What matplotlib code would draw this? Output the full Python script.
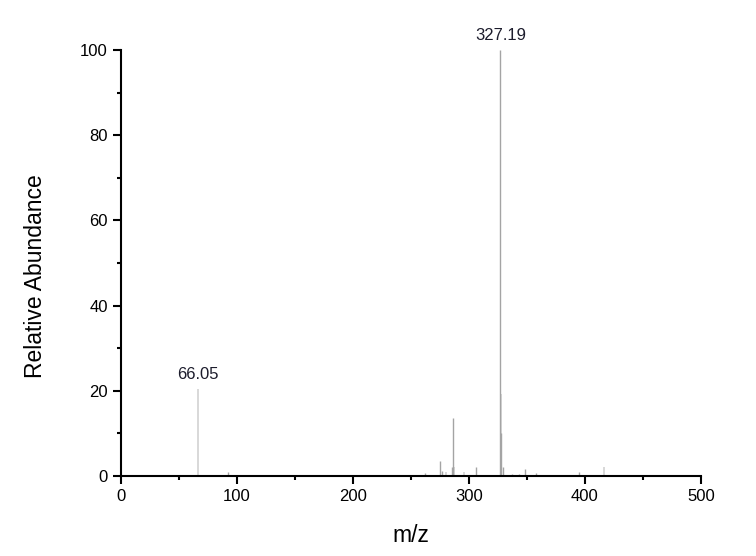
import numpy as np
import matplotlib.pyplot as plt
from matplotlib.ticker import MultipleLocator

plt.rcParams['font.family'] = ['Liberation Sans', 'DejaVu Sans']

# peaks drawn in the darker grey
mz_dark = [92.0, 262.4, 275.3, 276.4, 285.5, 286.2, 306.3, 327.19, 327.5,
           329.6, 337.0, 343.4, 348.6, 358.3, 374.4, 395.0]
int_dark = [1.0, 0.8, 3.4, 1.2, 2.0, 13.6, 2.0, 100.0, 10.0,
            2.0, 0.5, 0.4, 1.6, 0.6, 0.3, 0.9]
# peaks drawn in the light grey
mz_light = [66.05, 279.9, 286.8, 295.9, 328.1, 416.1]
int_light = [20.5, 1.0, 2.0, 1.0, 19.2, 2.0]
labels = [(66.05, 20.5, '66.05'), (327.19, 100.0, '327.19')]

fig = plt.figure(figsize=(7.56, 5.56), dpi=100)
ax = fig.add_axes([0.160, 0.144, 0.767, 0.766])

ax.vlines(mz_light, 0, int_light, color='#d2d2d2', linewidth=1.2)
ax.vlines(mz_dark, 0, int_dark, color='#a4a4a4', linewidth=1.0)

for x, y, t in labels:
    ax.annotate(t, (x, y), xytext=(0, 5), textcoords='offset points',
                ha='center', va='bottom', fontsize=12, color='#1c1c2c')

ax.set_xlim(0, 500)
ax.set_ylim(0, 100)
ax.xaxis.set_major_locator(MultipleLocator(100))
ax.xaxis.set_minor_locator(MultipleLocator(50))
ax.yaxis.set_major_locator(MultipleLocator(20))
ax.yaxis.set_minor_locator(MultipleLocator(10))

for s in ['top', 'right']:
    ax.spines[s].set_visible(False)
for s in ['left', 'bottom']:
    ax.spines[s].set_linewidth(1.5)

ax.tick_params(which='major', direction='out', length=6, width=1.5, labelsize=12)
ax.tick_params(which='minor', direction='out', length=3, width=1.5)

ax.set_xlabel('m/z', fontsize=16.5, labelpad=14)
ax.set_ylabel('Relative Abundance', fontsize=16.5)
ax.yaxis.set_label_coords(-0.127, 0.468)

fig.savefig('out.png', dpi=100)
